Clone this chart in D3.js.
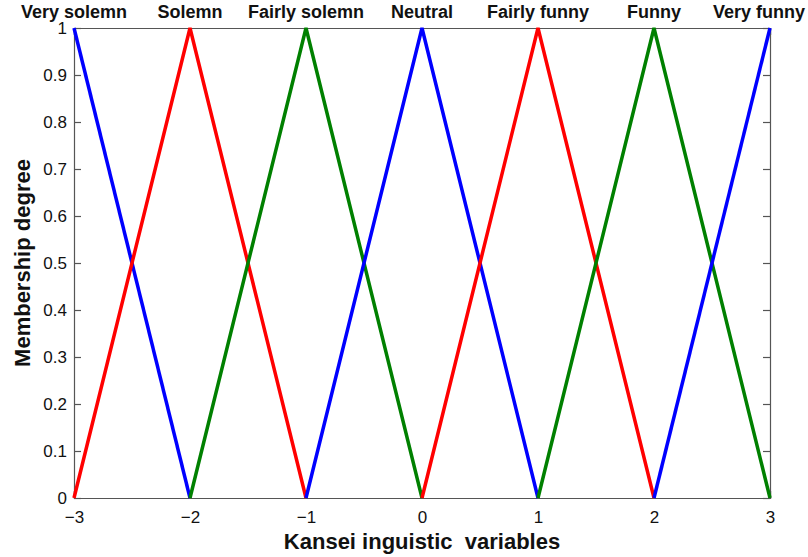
<!DOCTYPE html>
<html>
<head>
<meta charset="utf-8">
<script src="https://cdn.jsdelivr.net/npm/d3@7"></script>
<style>
  body { margin: 0; background: #fff; }
  svg { font-family: "Liberation Sans", Arial, sans-serif; }
</style>
</head>
<body>
<div id="chart"></div>
<script>
// membership functions, one per Kansei linguistic term
var termNames = ["Very solemn", "Solemn", "Fairly solemn", "Neutral", "Fairly funny", "Funny", "Very funny"];
var termCenters = [-3, -2, -1, 0, 1, 2, 3];
var termColors = ["#0000ff", "#ff0000", "#008000", "#0000ff", "#ff0000", "#008000", "#0000ff"];
var termX = [
    [-3, -2],
    [-3, -2, -1],
    [-2, -1, 0],
    [-1, 0, 1],
    [0, 1, 2],
    [1, 2, 3],
    [2, 3]
];
var termY = [
    [1, 0],
    [0, 1, 0],
    [0, 1, 0],
    [0, 1, 0],
    [0, 1, 0],
    [0, 1, 0],
    [0, 1]
];
var xTicks = [-3, -2, -1, 0, 1, 2, 3];
var yTicks = [0, 0.1, 0.2, 0.3, 0.4, 0.5, 0.6, 0.7, 0.8, 0.9, 1];

var width = 808, height = 557;
var margin = {left: 74, right: 38, top: 28, bottom: 59};

var svg = d3.select("#chart").append("svg")
    .attr("width", width)
    .attr("height", height);

var x = d3.scaleLinear().domain([-3, 3]).range([margin.left, width - margin.right]);
var y = d3.scaleLinear().domain([0, 1]).range([height - margin.bottom, margin.top]);

var axisColor = "#555";

function styleAxis(g) {
    g.select(".domain").attr("stroke", axisColor).attr("stroke-width", 1.2);
    g.selectAll(".tick line").attr("stroke", axisColor).attr("stroke-width", 1.2);
    g.selectAll(".tick text").attr("fill", "#111").attr("font-size", "17px");
}

// bottom axis, ticks pointing in
svg.append("g")
    .attr("transform", "translate(0," + y(0) + ")")
    .call(d3.axisBottom(x).tickValues(xTicks).tickSize(-7).tickPadding(13).tickFormat(d3.format("d")))
    .call(styleAxis);

// left axis
svg.append("g")
    .attr("transform", "translate(" + x(-3) + ",0)")
    .call(d3.axisLeft(y).tickValues(yTicks).tickSize(-7).tickPadding(7).tickFormat(function(d){ return d3.format("~g")(d); }))
    .call(styleAxis);

// box: top and right with mirrored ticks
svg.append("g")
    .attr("transform", "translate(0," + y(1) + ")")
    .call(d3.axisTop(x).tickValues(xTicks).tickSize(-7).tickFormat(""))
    .call(styleAxis);

svg.append("g")
    .attr("transform", "translate(" + x(3) + ",0)")
    .call(d3.axisRight(y).tickValues(yTicks).tickSize(-7).tickFormat(""))
    .call(styleAxis);

var line = d3.line()
    .x(function(d){ return x(d[0]); })
    .y(function(d){ return y(d[1]); });

termNames.forEach(function(name, i) {
    var pts = termX[i].map(function(v, j){ return [v, termY[i][j]]; });
    svg.append("path")
        .attr("d", line(pts))
        .attr("fill", "none")
        .attr("stroke", termColors[i])
        .attr("stroke-width", 3.5);
});

// term names over each peak, kept inside the canvas
var labels = svg.append("g")
    .attr("font-size", "18px")
    .attr("font-weight", "bold")
    .attr("fill", "#111");

termNames.forEach(function(name, i) {
    var t = labels.append("text")
        .attr("x", x(termCenters[i]))
        .attr("y", 18)
        .attr("text-anchor", "middle")
        .text(name);
    var w = t.node().getComputedTextLength();
    var cx = Math.max(w / 2 + 2, Math.min(width - 3 - w / 2, x(termCenters[i])));
    t.attr("x", cx);
});

svg.append("text")
    .attr("x", (x(-3) + x(3)) / 2)
    .attr("y", 549)
    .attr("text-anchor", "middle")
    .attr("font-size", "22px")
    .attr("font-weight", "bold")
    .attr("fill", "#111")
    .style("white-space", "pre")
    .text("Kansei inguistic  variables");

svg.append("text")
    .attr("transform", "translate(30," + ((y(0) + y(1)) / 2) + ") rotate(-90)")
    .attr("text-anchor", "middle")
    .attr("font-size", "22px")
    .attr("font-weight", "bold")
    .attr("fill", "#111")
    .text("Membership degree");
</script>
</body>
</html>
